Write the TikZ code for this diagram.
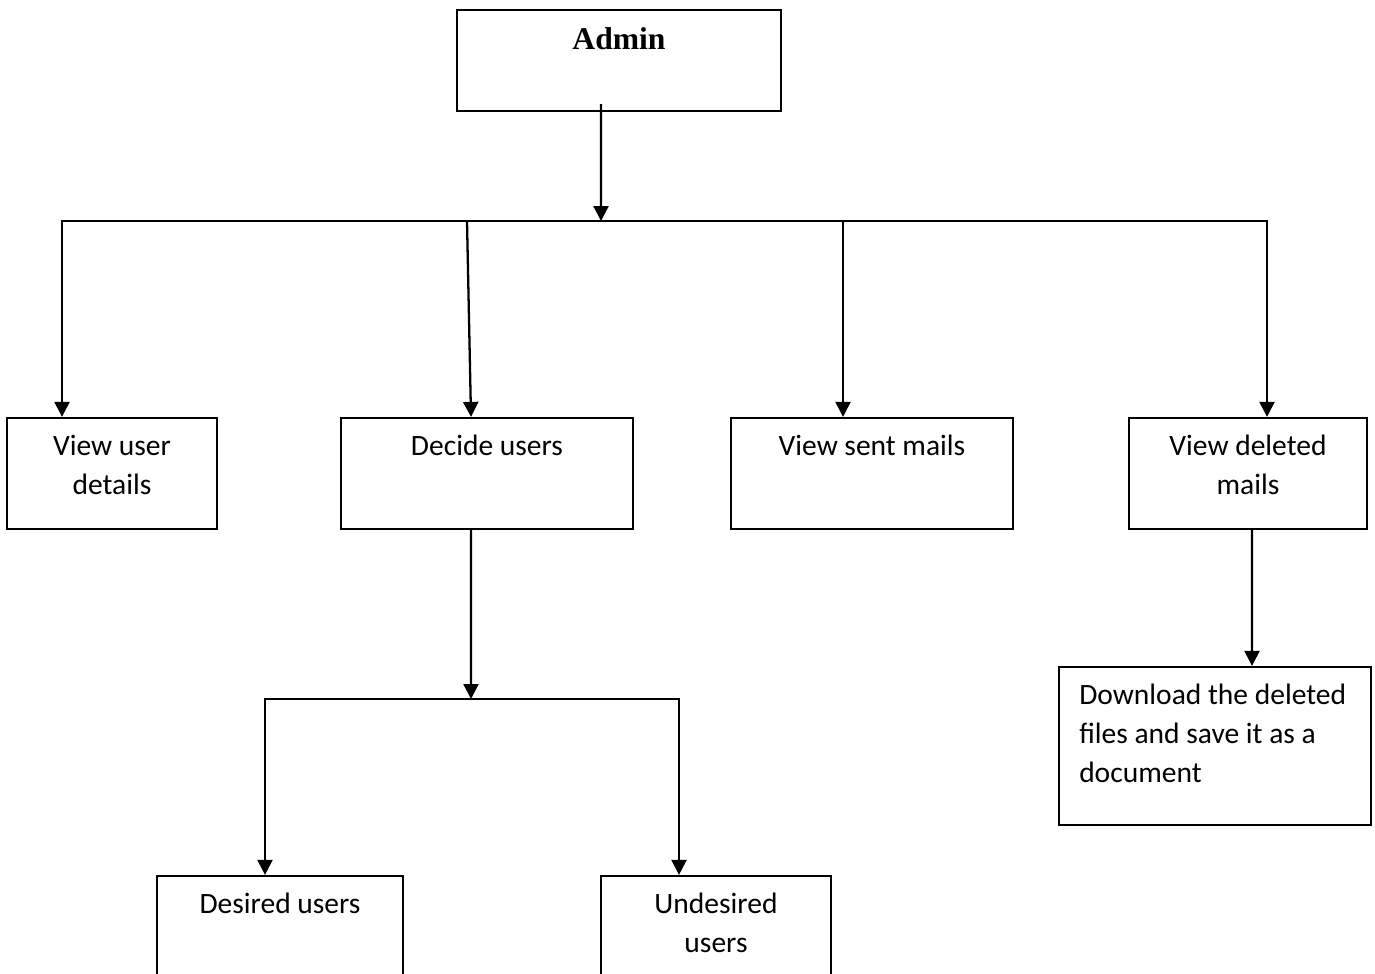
\documentclass[tikz,border=0pt]{standalone}
\usepackage{fontspec}
\setmainfont{Carlito}
\newfontfamily\adminfont{Liberation Serif}
\usetikzlibrary{arrows.meta}

\tikzset{
  box/.style={draw, line width=1.3pt, inner sep=0pt, minimum width=#1},
  lbl/.style={anchor=north, inner sep=0pt, align=center, yshift=-0.214cm,
    font=\fontsize{16.8}{22.2}\selectfont},
  headlbl/.style={anchor=north, inner sep=0pt, yshift=-0.257cm,
    font=\adminfont\bfseries\fontsize{18}{22}\selectfont},
  arr/.style={line width=1.3pt, -{Triangle[width=0.3cm,length=0.3cm]}},
  bus/.style={line width=1.3pt, line cap=rect},
}

\begin{document}
\begin{tikzpicture}[x=0.02cm, y=-0.02cm]
  \clip (0,0) rectangle (1375,973);
  % boxes
  \node[box=6.48cm, minimum height=2.02cm, label={[headlbl]north:\strut Admin}] (admin) at (619,60.5) {};
  \node[box=4.2cm, minimum height=2.22cm, label={[lbl]north:\strut View user\\details}] (details) at (112,473.5) {};
  \node[box=5.84cm, minimum height=2.22cm, label={[lbl]north:\strut Decide users}] (decide) at (487,473.5) {};
  \node[box=5.64cm, minimum height=2.22cm, label={[lbl]north:\strut View sent mails}] (sent) at (872,473.5) {};
  \node[box=4.76cm, minimum height=2.22cm, label={[lbl]north:\strut View deleted\\mails}] (deleted) at (1248,473.5) {};
  \node[box=6.24cm, minimum height=3.16cm,
    label={[lbl, anchor=north west, align=left, xshift=0.42cm]north west:\strut Download the deleted\\files and save it as a\\document}] (download) at (1215,746) {};
  \node[box=4.92cm, minimum height=2.04cm, label={[lbl]north:\strut Desired users}] (desired) at (280,927) {};
  \node[box=4.6cm, minimum height=2.04cm, label={[lbl]north:\strut Undesired\\users}] (undesired) at (716,927) {};

  % admin to the four tasks
  \coordinate (hub) at (601,221);
  \draw[arr] ([xshift=-0.36cm, yshift=0.16cm]admin.south) -- (hub);
  \draw[bus] (62,221) coordinate (b1) -- (1267,221) coordinate (b4);
  \coordinate (b2) at (467,221);
  \coordinate (b3) at (843,221);
  \draw[arr] (b1) -- (b1 |- details.north);
  \draw[arr] (b2) -- ([xshift=-0.32cm]decide.north);
  \draw[arr] (b3) -- (b3 |- sent.north);
  \draw[arr] (b4) -- (b4 |- deleted.north);

  % decide users
  \coordinate (hub2) at (471,699);
  \draw[arr] ([xshift=-0.32cm]decide.south) -- (hub2);
  \draw[bus] (265,699) coordinate (c1) -- (679,699) coordinate (c2);
  \draw[arr] (c1) -- (c1 |- desired.north);
  \draw[arr] (c2) -- (c2 |- undesired.north);

  % deleted mails
  \draw[arr] ([xshift=0.08cm]deleted.south) -- ([xshift=0.74cm]download.north);
\end{tikzpicture}
\end{document}
